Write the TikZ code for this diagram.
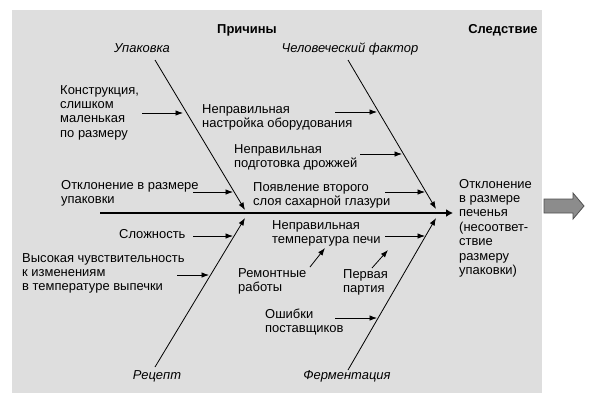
\documentclass[tikz,border=0pt]{standalone}
\usepackage{fontspec}
\setmainfont{Liberation Sans}
\usetikzlibrary{arrows.meta}
\newcommand{\mlines}[1]{\begin{tabular}[t]{@{}l@{}}#1\end{tabular}}
\definecolor{bgc}{RGB}{222,222,222}
\definecolor{arrfill}{RGB}{140,140,140}
\definecolor{arrline}{RGB}{80,80,80}
\begin{document}
\begin{tikzpicture}[x=1bp,y=-1bp,
  txt/.style={anchor=base west, inner sep=0, font=\fontsize{13}{14.5}\selectfont},
  cat/.style={anchor=base, inner sep=0, font=\fontsize{13}{14.5}\selectfont\itshape},
  headl/.style={anchor=base, inner sep=0, font=\fontsize{13}{14.5}\selectfont\bfseries},
  bone/.style={line width=0.8bp, -{Latex[length=7.5bp,width=5.5bp]}},
  subarr/.style={line width=0.8bp, -{Latex[length=7.5bp,width=5.5bp]}},
  spine/.style={line width=2.4bp, -{Latex[length=7bp,width=8bp]}}]
\useasboundingbox (0,0) rectangle (600,406);
\fill[bgc] (12,10) rectangle (542,393);

% headings
\node[headl] (causes) at (247,33) {Причины};
\node[headl] (effect) at (503,33) {Следствие};

% category labels
\node[cat] (pack) at (142,52) {Упаковка};
\node[cat] (human) at (350,52) {Человеческий фактор};
\node[cat] (recipe) at (157,379) {Рецепт};
\node[cat] (ferm) at (347,379) {Ферментация};

% bones
\coordinate (packTop) at (155,60);
\coordinate (packEnd) at (245,210);
\coordinate (humanTop) at (348,60);
\coordinate (humanEnd) at (436,209);
\coordinate (recipeBot) at (155,367);
\coordinate (recipeEnd) at (245,218);
\coordinate (fermBot) at (348,370);
\coordinate (fermEnd) at (436,218);
\draw[bone] (packTop) -- (packEnd);
\draw[bone] (humanTop) -- (humanEnd);
\draw[bone] (recipeBot) -- (recipeEnd);
\draw[bone] (fermBot) -- (fermEnd);

% spine
\coordinate (spineStart) at (100,213);
\coordinate (spineEnd) at (453,213);
\draw[spine] (spineStart) -- (spineEnd);

% cause texts
\node[txt] (t1) at (60,94) {\mlines{Конструкция,\\слишком\\маленькая\\по размеру}};
\node[txt] (t2) at (202,113) {\mlines{Неправильная\\настройка оборудования}};
\node[txt] (t3) at (234,153) {\mlines{Неправильная\\подготовка дрожжей}};
\node[txt] (t4) at (253,191) {\mlines{Появление второго\\слоя сахарной глазури}};
\node[txt] (t5) at (61,189) {\mlines{Отклонение в размере\\упаковки}};
\node[txt] (t6) at (119,238) {Сложность};
\node[txt] (t7) at (22,262) {\mlines{Высокая чувствительность\\к изменениям\\в температуре выпечки}};
\node[txt] (t8) at (272,229) {\mlines{Неправильная\\температура печи}};
\node[txt] (t9) at (238,277) {\mlines{Ремонтные\\работы}};
\node[txt] (t10) at (343,278) {\mlines{Первая\\партия}};
\node[txt] (t11) at (265,318) {\mlines{Ошибки\\поставщиков}};
\node[txt] (res) at (459,188) {\mlines{Отклонение\\в размере\\печенья\\(несоответ-\\ствие\\размеру\\упаковки)}};

% sub arrows
\coordinate (a1s) at (142,113); \coordinate (a1e) at (183,113);
\coordinate (a2s) at (335,112); \coordinate (a2e) at (377,112);
\coordinate (a3s) at (360,154); \coordinate (a3e) at (402,154);
\coordinate (a4s) at (385,192); \coordinate (a4e) at (425,192);
\coordinate (a5s) at (193,192); \coordinate (a5e) at (233,192);
\coordinate (a6s) at (193,236); \coordinate (a6e) at (233,236);
\coordinate (a7s) at (177,275); \coordinate (a7e) at (209,275);
\coordinate (a8s) at (385,236); \coordinate (a8e) at (425,236);
\coordinate (a9s) at (310,267); \coordinate (a9e) at (325,248);
\coordinate (a10s) at (372,268); \coordinate (a10e) at (388,250);
\coordinate (a11s) at (335,318); \coordinate (a11e) at (377,318);
\foreach \i in {1,...,11} {\draw[subarr] (a\i s) -- (a\i e);}

% big arrow
\draw[fill=arrfill, draw=arrline, line width=0.8bp, line join=miter]
  (544,199) -- (573,199) -- (573,193) -- (584,206) -- (573,219) -- (573,213) -- (544,213) -- cycle;
\end{tikzpicture}
\end{document}
